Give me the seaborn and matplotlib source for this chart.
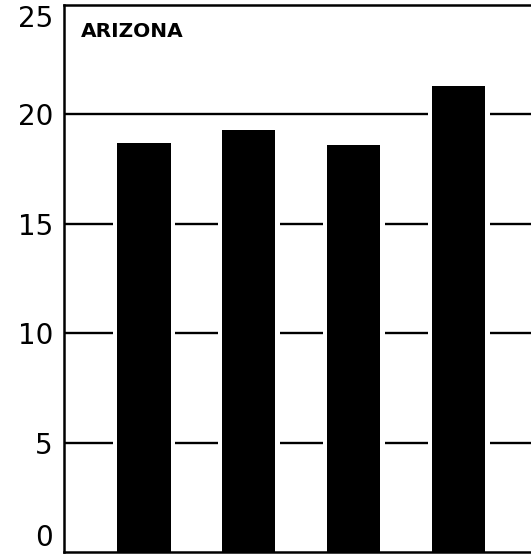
import matplotlib
matplotlib.use("Agg")
import matplotlib.pyplot as plt
import seaborn as sns
import pandas as pd

# Data
groups = ["A", "B", "C", "D"]
values = [18.7, 19.3, 18.6, 21.3]
y_ticks = [0, 5, 10, 15, 20, 25]
panel_title = "ARIZONA"

df = pd.DataFrame({"group": groups, "value": values})

sns.set_theme(style="white")
plt.rcParams["font.family"] = ["DejaVu Sans"]

fig = plt.figure(figsize=(5.31, 5.54), dpi=100)
ax = fig.add_axes([64 / 531, 2 / 554, 1 - 64 / 531, 547 / 554])

# horizontal reference lines
for t in y_ticks[1:-1]:
    ax.axhline(t, color="black", lw=1.7, zorder=1)

# white halo around each bar so the reference lines stop short of it
sns.barplot(data=df, x="group", y="value", color="white", width=0.59,
            saturation=1, ax=ax, zorder=2, linewidth=0)
sns.barplot(data=df, x="group", y="value", color="black", width=0.51,
            saturation=1, ax=ax, zorder=3, linewidth=0)

ax.set_xlim(-0.76, 3.69)
ax.set_ylim(0, 25)
ax.set_yticks(y_ticks)
ax.set_yticklabels([str(t) for t in y_ticks], fontsize=20)
ax.set_xticks([])
ax.set_xlabel("")
ax.set_ylabel("")
ax.tick_params(axis="y", length=0, pad=8, colors="black")

# keep the end labels inside the figure
labels = ax.get_yticklabels()
labels[0].set_va("bottom")
labels[-1].set_va("top")

for side in ["left", "top", "bottom"]:
    ax.spines[side].set_color("black")
    ax.spines[side].set_linewidth(1.8)
ax.spines["right"].set_visible(False)

fig.text(81 / 531, 1 - 37 / 554, panel_title, fontsize=14.5,
         fontweight="bold", va="baseline", ha="left", color="black")

fig.savefig("out.png", dpi=100)
